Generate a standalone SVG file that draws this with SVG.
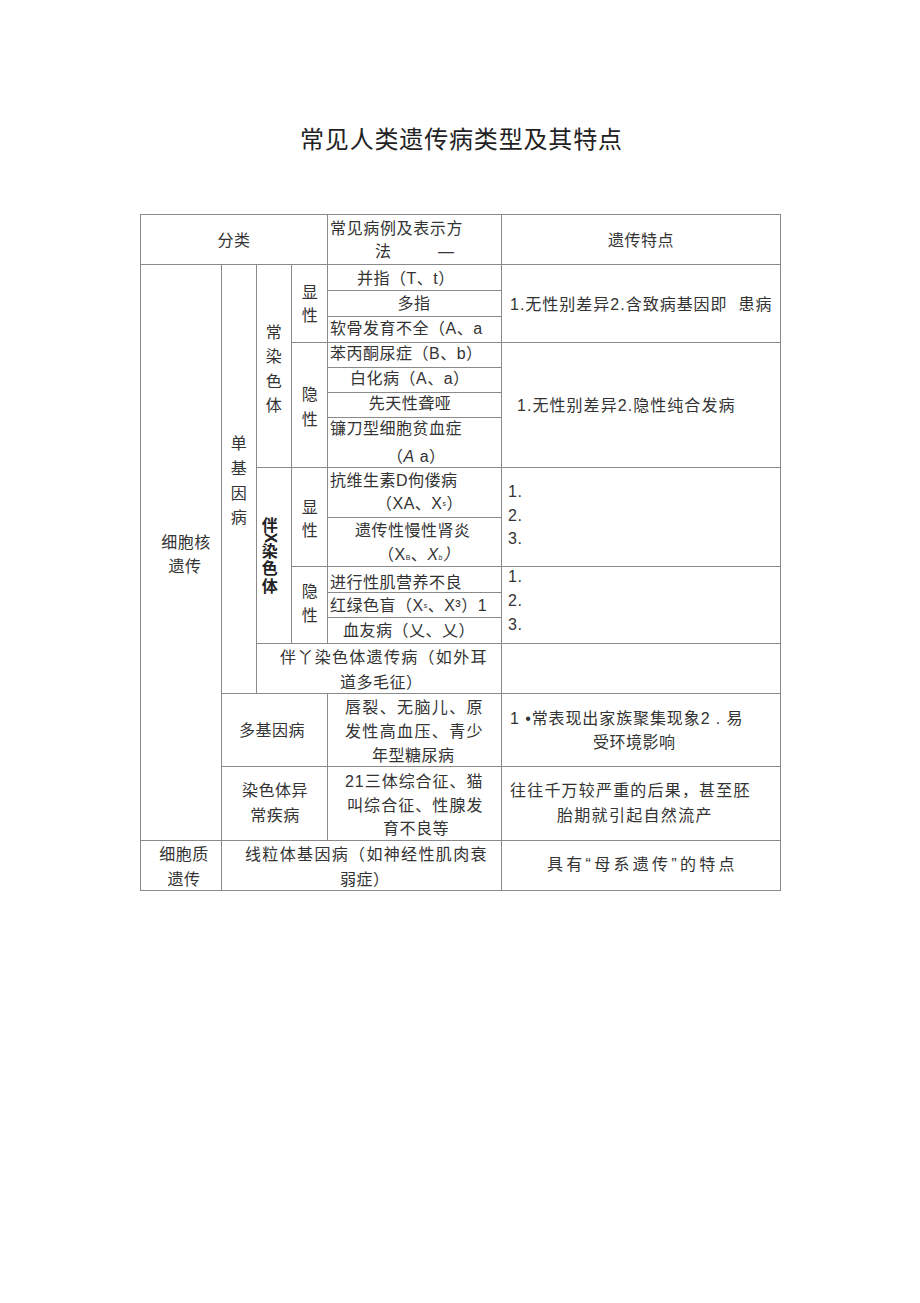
<svg xmlns="http://www.w3.org/2000/svg" width="920" height="1303" viewBox="0 0 920 1303">
<style>
.t{font-family:"Liberation Sans","Noto Sans CJK SC",sans-serif;font-size:16px;fill:#333;letter-spacing:0.5px;white-space:pre}
.c{text-anchor:middle}
.b{font-weight:bold;fill:#222}
.sm{font-size:7px}
.it{font-style:italic}
.title{font-family:"Liberation Sans","Noto Sans CJK SC",sans-serif;font-size:24px;fill:#222}
#grid line{stroke:#8a8a8a;stroke-width:1;fill:none}
#grid rect{stroke:#8a8a8a;stroke-width:1;fill:none}
</style>
<rect width="920" height="1303" fill="#fff"/>
<g id="title"><text class="title" x="300" y="148" textLength="322" lengthAdjust="spacing">常见人类遗传病类型及其特点</text></g>

<g id="grid">
<rect x="140.5" y="214.5" width="640" height="676"/>
<line x1="221.5" y1="264" x2="221.5" y2="890"/>
<line x1="256.5" y1="264" x2="256.5" y2="693"/>
<line x1="291.5" y1="264" x2="291.5" y2="643"/>
<line x1="327.5" y1="214" x2="327.5" y2="643"/>
<line x1="327.5" y1="693" x2="327.5" y2="840"/>
<line x1="501.5" y1="214" x2="501.5" y2="890"/>
<line x1="140" y1="264.5" x2="780" y2="264.5"/>
<line x1="327" y1="290.5" x2="501" y2="290.5"/>
<line x1="327" y1="316.5" x2="501" y2="316.5"/>
<line x1="291" y1="342.5" x2="780" y2="342.5"/>
<line x1="327" y1="367.5" x2="501" y2="367.5"/>
<line x1="327" y1="392.5" x2="501" y2="392.5"/>
<line x1="327" y1="417.5" x2="501" y2="417.5"/>
<line x1="256" y1="467.5" x2="780" y2="467.5"/>
<line x1="327" y1="517.5" x2="501" y2="517.5"/>
<line x1="291" y1="566.5" x2="780" y2="566.5"/>
<line x1="327" y1="592.5" x2="501" y2="592.5"/>
<line x1="327" y1="617.5" x2="501" y2="617.5"/>
<line x1="256" y1="643.5" x2="780" y2="643.5"/>
<line x1="221" y1="693.5" x2="780" y2="693.5"/>
<line x1="221" y1="766.5" x2="780" y2="766.5"/>
<line x1="140" y1="840.5" x2="780" y2="840.5"/>
</g>

<g id="header">
<text class="t c" x="234" y="246">分类</text>
<text class="t" x="330" y="234" textLength="133">常见病例及表示方</text>
<text class="t" x="375" y="257">法</text>
<text class="t" x="438" y="257">—</text>
<text class="t c" x="641" y="246">遗传特点</text>
</g>

<g id="nucleus">
<text class="t c" x="186" y="548">细胞核</text>
<text class="t c" x="185" y="572">遗传</text>
</g>

<g id="single-gene">
<text class="t c" x="239" y="449">单</text>
<text class="t c" x="239" y="474">基</text>
<text class="t c" x="239" y="499">因</text>
<text class="t c" x="239" y="523">病</text>
</g>

<g id="autosomal">
<text class="t c" x="274" y="338">常</text>
<text class="t c" x="274" y="362">染</text>
<text class="t c" x="274" y="387">色</text>
<text class="t c" x="274" y="411">体</text>
</g>

<g id="auto-dominant">
<text class="t c" x="310" y="298">显</text>
<text class="t c" x="310" y="321">性</text>
<text class="t" x="357" y="284">并指（T、t）</text>
<text class="t c" x="414" y="309">多指</text>
<text class="t" x="330" y="334">软骨发育不全（A、a</text>
<text class="t" x="510" y="310" textLength="262">1.无性别差异2.含致病基因即  患病</text>
</g>

<g id="auto-recessive">
<text class="t c" x="310" y="400">隐</text>
<text class="t c" x="310" y="425">性</text>
<text class="t" x="330" y="359">苯丙酮尿症（B、b）</text>
<text class="t" x="350" y="384">白化病（A、a）</text>
<text class="t c" x="410" y="409">先天性聋哑</text>
<text class="t" x="330" y="434">镰刀型细胞贫血症</text>
<text class="t" x="387" y="462">（<tspan class="it">A</tspan> a）</text>
<text class="t" x="517" y="411" textLength="218">1.无性别差异2.隐性纯合发病</text>
</g>

<g id="x-linked">
<text class="t c b" x="270" y="531">伴</text>
<text class="t b" x="270" y="538" font-size="12" text-anchor="middle" dominant-baseline="central" transform="rotate(90 270 538)">X</text>
<text class="t c b" x="270" y="557">染</text>
<text class="t c b" x="270" y="574">色</text>
<text class="t c b" x="270" y="592">体</text>
</g>

<g id="x-dominant">
<text class="t c" x="310" y="513">显</text>
<text class="t c" x="310" y="536">性</text>
<text class="t" x="330" y="486">抗维生素D佝偻病</text>
<text class="t" x="376" y="509">（XA、X<tspan class="sm" dy="-3">s</tspan><tspan dy="3">）</tspan></text>
<text class="t" x="355" y="536">遗传性慢性肾炎</text>
<text class="t" x="378" y="560">（X<tspan class="sm">B</tspan>、<tspan class="it">X</tspan><tspan class="sm it">b</tspan><tspan class="it">）</tspan></text>
<text class="t" x="508" y="497">1.</text>
<text class="t" x="508" y="521">2.</text>
<text class="t" x="508" y="544">3.</text>
</g>

<g id="x-recessive">
<text class="t c" x="310" y="597">隐</text>
<text class="t c" x="310" y="621">性</text>
<text class="t" x="330" y="588">进行性肌营养不良</text>
<text class="t" x="330" y="611">红绿色盲（X<tspan class="sm" dy="-3">s</tspan><tspan dy="3">、X³）1</tspan></text>
<text class="t" x="343" y="636">血友病（乂、乂）</text>
<text class="t" x="508" y="582">1.</text>
<text class="t" x="508" y="606">2.</text>
<text class="t" x="508" y="630">3.</text>
</g>

<g id="y-linked">
<text class="t" x="280" y="663" textLength="207">伴丫染色体遗传病（如外耳</text>
<text class="t" x="340" y="688">道多毛征）</text>
</g>

<g id="polygenic">
<text class="t c" x="272" y="736">多基因病</text>
<text class="t" x="345" y="713" textLength="138">唇裂、无脑儿、原</text>
<text class="t" x="345" y="737" textLength="138">发性高血压、青少</text>
<text class="t" x="372" y="761">年型糖尿病</text>
<text class="t" x="510" y="724" textLength="233">1 •常表现出家族聚集现象2 . 易</text>
<text class="t" x="593" y="748">受环境影响</text>
</g>

<g id="chromosomal">
<text class="t c" x="275" y="796">染色体异</text>
<text class="t c" x="275" y="821">常疾病</text>
<text class="t" x="345" y="787" textLength="138">21三体综合征、猫</text>
<text class="t" x="347" y="811" textLength="136">叫综合征、性腺发</text>
<text class="t" x="383" y="834">育不良等</text>
<text class="t" x="510" y="796" textLength="240">往往千万较严重的后果，甚至胚</text>
<text class="t" x="557" y="821" textLength="155">胎期就引起自然流产</text>
</g>

<g id="cytoplasm">
<text class="t c" x="184" y="860">细胞质</text>
<text class="t c" x="184" y="885">遗传</text>
<text class="t" x="245" y="860" textLength="242">线粒体基因病（如神经性肌肉衰</text>
<text class="t" x="340" y="885">弱症）</text>
<text class="t" x="547" y="870" textLength="188">具有“母系遗传”的特点</text>
</g>
</svg>
